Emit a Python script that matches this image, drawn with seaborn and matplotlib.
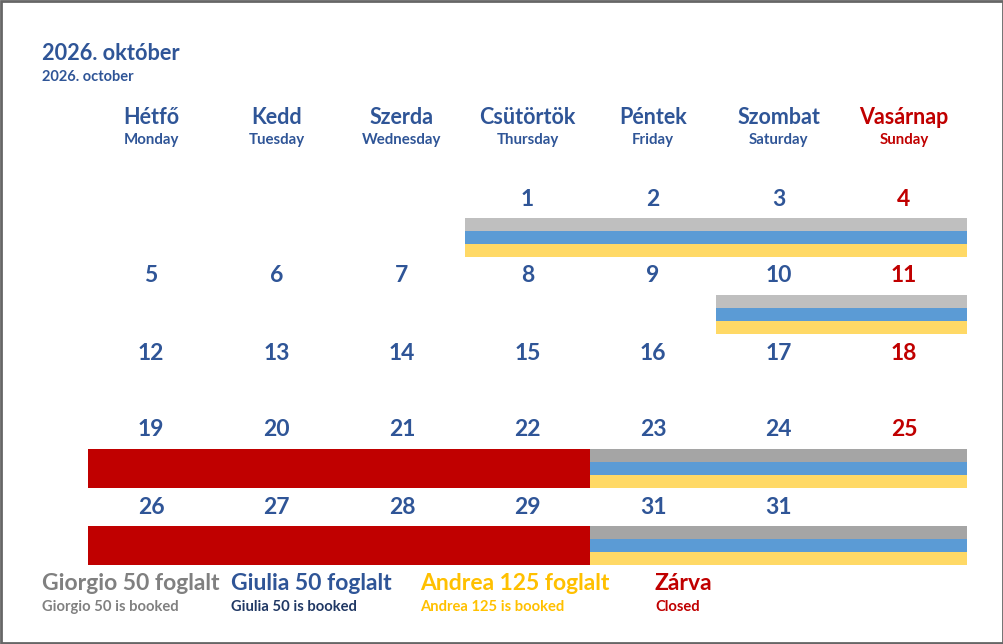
import matplotlib
matplotlib.use("Agg")
import matplotlib.pyplot as plt
import seaborn as sns
from matplotlib.patches import Rectangle

sns.set_theme(style="white")
plt.rcParams['font.family'] = ['Lato', 'DejaVu Sans']

# ---- data ----
title_hu = "2026. október"
title_en = "2026. october"
days_hu = ["Hétfő", "Kedd", "Szerda", "Csütörtök", "Péntek", "Szombat", "Vasárnap"]
days_en = ["Monday", "Tuesday", "Wednesday", "Thursday", "Friday", "Saturday", "Sunday"]
weeks = [
    ["", "", "", "1", "2", "3", "4"],
    ["5", "6", "7", "8", "9", "10", "11"],
    ["12", "13", "14", "15", "16", "17", "18"],
    ["19", "20", "21", "22", "23", "24", "25"],
    ["26", "27", "28", "29", "31", "31", ""],
]
# bookings: (week index, first column, last column)
booking_week = [0, 1, 3, 4]
booking_start = [3, 5, 4, 4]
booking_end = [6, 6, 6, 6]
booking_gray = ["#BFBFBF", "#BFBFBF", "#A5A5A5", "#A5A5A5"]
closed_week = [3, 4]
closed_start = [0, 0]
closed_end = [3, 3]
legend_hu = ["Giorgio 50 foglalt", "Giulia 50 foglalt", "Andrea 125 foglalt", "Zárva"]
legend_en = ["Giorgio 50 is booked", "Giulia 50 is booked", "Andrea 125 is booked", "Closed"]
legend_col = ["#808080", "#2F5597", "#FFC000", "#C00000"]
legend_sub_col = ["#808080", "#203864", "#FFC000", "#C00000"]

BLUE_TXT = "#2F5597"
RED_TXT = "#C00000"
GIULIA = "#5B9BD5"
ANDREA = "#FFD966"
CLOSED = "#C00000"

W, H = 1004, 644
fig = plt.figure(figsize=(W / 100, H / 100), dpi=100)
fig.patch.set_facecolor("white")
ax = fig.add_axes([0, 0, 1, 1])
# column units: col 0 left edge at px 88.25, width 125.5; rows: date centres at 197 + 77*r
x0, cw = 88.25, 125.5
y0, rh = 197.0, 77.0
ax.set_xlim(-x0 / cw, (W - x0) / cw)
ax.set_ylim((H - y0) / rh, -y0 / rh)
ax.axis("off")

band_top = 21 / rh
band_h = 13 / rh

# booking bands
for wk, s, e, g in zip(booking_week, booking_start, booking_end, booking_gray):
    for i, c in enumerate([g, GIULIA, ANDREA]):
        ax.barh(wk + band_top + i * band_h, e - s + 1, left=s, height=band_h,
                align="edge", color=c, linewidth=0)
# closed
for wk, s, e in zip(closed_week, closed_start, closed_end):
    ax.barh(wk + band_top, e - s + 1, left=s, height=3 * band_h,
            align="edge", color=CLOSED, linewidth=0)

# day headers
for i, (hu, en) in enumerate(zip(days_hu, days_en)):
    col = RED_TXT if i == 6 else BLUE_TXT
    ax.text(i + 0.5, (117 - y0) / rh, hu, ha="center", va="center",
            fontsize=15.5, fontweight="bold", color=col)
    ax.text(i + 0.5, (140 - y0) / rh, en, ha="center", va="center",
            fontsize=10.8, fontweight="bold", color=col)

# dates
for r, wk in enumerate(weeks):
    for i, d in enumerate(wk):
        if d:
            col = RED_TXT if i == 6 else BLUE_TXT
            ax.text(i + 0.5, r + 2 / rh, d, ha="center", va="center",
                    fontsize=16.5, fontweight="bold", color=col)

# title
fig.text(42 / W, 1 - 53 / H, title_hu, ha="left", va="center",
         fontsize=15.7, fontweight="bold", color=BLUE_TXT)
fig.text(42 / W, 1 - 77 / H, title_en, ha="left", va="center",
         fontsize=10.5, fontweight="bold", color=BLUE_TXT)

# legend
leg_x = [42, 231, 420, 655]
for lx, hu, en, c1, c2 in zip(leg_x, legend_hu, legend_en, legend_col, legend_sub_col):
    fig.text(lx / W, 1 - 583 / H, hu, ha="left", va="center",
             fontsize=16.5, fontweight="bold", color=c1)
    fig.text(lx / W, 1 - 607 / H, en, ha="left", va="center",
             fontsize=10.6, fontweight="bold", color=c2)

# border
fig.add_artist(Rectangle((0.001, 0.0015), 0.998, 0.997, transform=fig.transFigure,
                         fill=False, edgecolor="#666666", linewidth=2))

fig.savefig("out.png", dpi=100, facecolor="white")
